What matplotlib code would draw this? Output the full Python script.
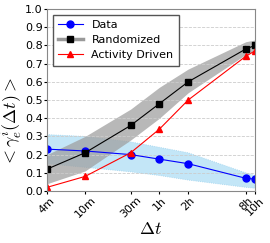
import numpy as np
import matplotlib
matplotlib.use("Agg")
import matplotlib.pyplot as plt
from matplotlib.lines import Line2D

plt.rcParams["mathtext.fontset"] = "cm"

# time windows in minutes
dt_minutes = [4, 10, 30, 60, 120, 480, 600]
dt_labels = ["4m", "10m", "30m", "1h", "2h", "8h", "10h"]

data_mean = [0.23, 0.22, 0.20, 0.175, 0.15, 0.07, 0.065]
data_low = [0.15, 0.13, 0.105, 0.085, 0.06, 0.02, 0.015]
data_high = [0.31, 0.30, 0.27, 0.24, 0.21, 0.10, 0.085]

rand_mean = [0.12, 0.21, 0.36, 0.48, 0.60, 0.78, 0.80]
rand_low = [0.04, 0.11, 0.28, 0.40, 0.54, 0.75, 0.77]
rand_high = [0.20, 0.30, 0.45, 0.57, 0.67, 0.82, 0.83]

act_mean = [0.02, 0.08, 0.21, 0.34, 0.50, 0.74, 0.77]

fig = plt.figure(figsize=(2.7, 2.43), dpi=100)
ax = fig.add_axes([47 / 270, 1 - 191 / 243, 208 / 270, 182 / 243])

ax.fill_between(dt_minutes, data_low, data_high, color="#aadcf5", alpha=0.7,
                linewidth=0.6, linestyle=":", edgecolor="#88c8e8")
ax.fill_between(dt_minutes, rand_low, rand_high, color="#a0a0a0", alpha=0.75, linewidth=0)

ax.plot(dt_minutes, data_mean, color="blue", marker="o", ms=5, lw=0.8)
ax.plot(dt_minutes, rand_mean, color="black", marker="s", ms=5, lw=0.8)
ax.plot(dt_minutes, act_mean, color="red", marker="^", ms=5, lw=0.8)

ax.set_xscale("log")
ax.set_xlim(dt_minutes[0], dt_minutes[-1])
ax.set_ylim(0, 1)
ax.set_yticks(np.arange(0, 1.01, 0.1))
ax.set_yticklabels([f"{v:.1f}" for v in np.arange(0, 1.01, 0.1)], fontsize=8)
ax.set_xticks(dt_minutes)
ax.set_xticklabels(dt_labels, rotation=45, fontsize=8)
ax.minorticks_off()
ax.tick_params(length=2, pad=1)
ax.grid(axis="y", linestyle="--", color="#cccccc", lw=0.6)
for s in ax.spines.values():
    s.set_color("#888888")

ax.set_xlabel(r"$\Delta t$", fontsize=13, labelpad=0)
ax.set_ylabel(r"$<\gamma_e^i(\Delta t)>$", fontsize=13)
ax.yaxis.set_label_coords(-0.105, 0.38)

handles = [
    Line2D([], [], color="blue", marker="o", ms=5, lw=0.8),
    Line2D([], [], color="#999999", marker="s", mfc="black", mec="black", ms=5, lw=2.5),
    Line2D([], [], color="red", marker="^", ms=5, lw=0.8),
]
ax.legend(handles, ["Data", "Randomized", "Activity Driven"], loc="upper left",
          fontsize=8, fancybox=False, edgecolor="#555555", framealpha=1,
          handlelength=2.2, borderpad=0.5, labelspacing=0.45)

fig.savefig("out.png", dpi=100)
